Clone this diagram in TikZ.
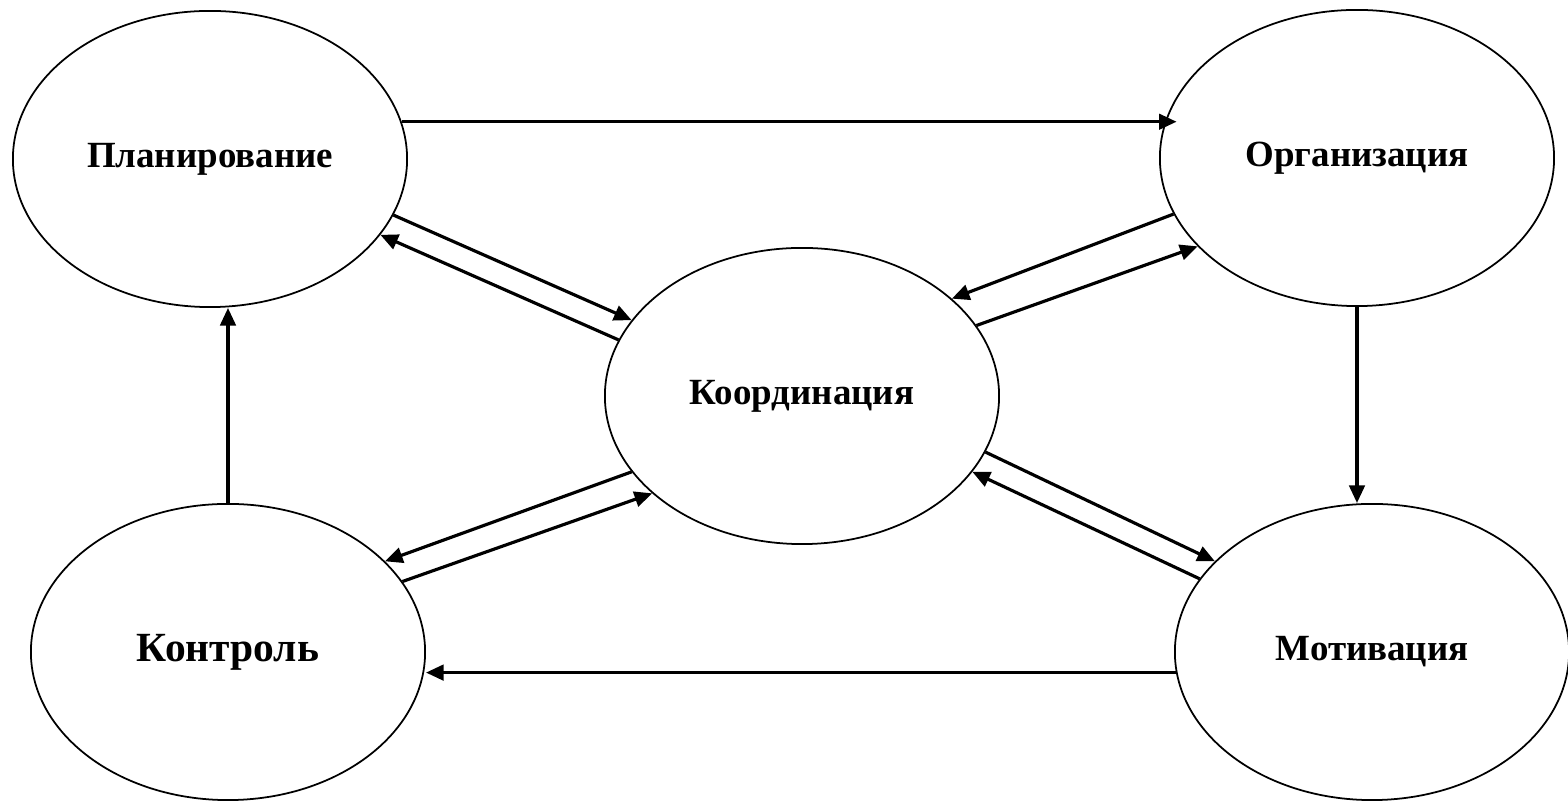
\documentclass[tikz,border=0pt]{standalone}
\usepackage{fontspec}
\setmainfont{Liberation Serif}
\usetikzlibrary{shapes.geometric,arrows.meta}
\tikzset{
  stage/.style={draw, ellipse, line width=0.5pt,
    minimum width=3.94cm, minimum height=2.96cm,
    font=\fontsize{10.5}{12}\selectfont\bfseries}
}
\begin{document}
\begin{tikzpicture}[x=0.01cm, y=-0.01cm]
      \useasboundingbox (0,0) rectangle (1568,801);
      \draw
        (210,159) node[stage] (plan){Планирование}
        (1357,158) node[stage] (org){Организация}
        (802,396) node[stage] (coord){Координация}
        (228,652) node[stage, font=\fontsize{11.8}{13}\selectfont\bfseries] (ctrl){Контроль}
        (1372,652) node[stage] (motiv){Мотивация};
      \begin{scope}[-{Triangle[length=5pt,width=4.4pt]}, line width=0.9pt]
        % outer cycle
        \draw (plan.11) to ([xshift=5pt]plan.11 -| org.west);
        \draw (org.south) to (org.south |- motiv.north);
        \draw (motiv.186) to (motiv.186 -| ctrl.east);
        \draw (ctrl.north) to (ctrl.north |- plan.south);
        % pairs to the centre
        \draw (plan.-17) to (coord.156);
        \draw (coord.163) to (plan.-24);
        \draw (org.197) to (coord.33);
        \draw (coord.22) to (org.209);
        \draw (coord.204) to (ctrl.30);
        \draw (ctrl.22) to (coord.213);
        \draw (coord.-17) to (motiv.150);
        \draw (motiv.157) to (coord.-24);
      \end{scope}
    \end{tikzpicture}
\end{document}
